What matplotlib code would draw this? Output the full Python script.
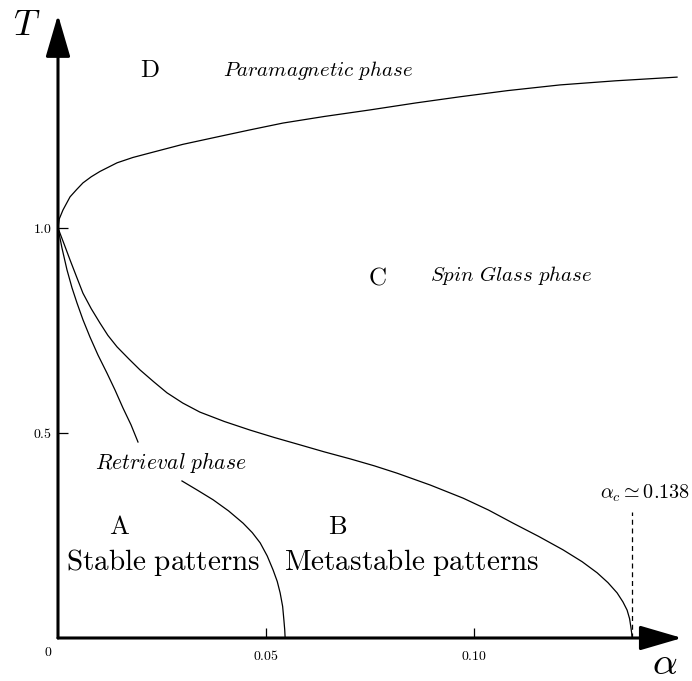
#!/usr/bin/env python3
# -*- coding: utf-8 -*-

from matplotlib import pyplot as plt

plt.rcParams['mathtext.fontset'] = 'cm'
plt.rcParams['font.family'] = 'serif'

# paramagnetic / spin glass boundary T_g(alpha)
alpha_g = [0, 0.0003, 0.0012, 0.0029, 0.0045, 0.0060, 0.0080, 0.0101, 0.0142,
           0.0180, 0.0221, 0.0300, 0.0382, 0.0460, 0.0541, 0.0640, 0.0750,
           0.0860, 0.0966, 0.1080, 0.1207, 0.1340, 0.1488]
t_g = [1.0, 1.022, 1.044, 1.076, 1.094, 1.110, 1.125, 1.138, 1.159,
       1.172, 1.183, 1.204, 1.222, 1.239, 1.256, 1.272, 1.288,
       1.305, 1.320, 1.335, 1.349, 1.359, 1.368]

# retrieval boundary T_M(alpha), ends at alpha_c
alpha_m = [0, 0.0015, 0.0029, 0.0045, 0.0060, 0.0080, 0.0101, 0.0120, 0.0142,
           0.0170, 0.0197, 0.0230, 0.0262, 0.0300, 0.0341, 0.0400, 0.0462,
           0.0520, 0.0582, 0.0640, 0.0702, 0.0760, 0.0815, 0.0895, 0.0974,
           0.1035, 0.1094, 0.1155, 0.1214, 0.1260, 0.1296, 0.1322, 0.1344,
           0.1358, 0.1368, 0.1374, 0.1377, 0.1379, 0.138]
t_m = [1.0, 0.960, 0.922, 0.880, 0.841, 0.803, 0.768, 0.738, 0.710,
       0.681, 0.654, 0.625, 0.598, 0.573, 0.551, 0.528, 0.507,
       0.489, 0.471, 0.454, 0.437, 0.420, 0.402, 0.373, 0.341,
       0.312, 0.280, 0.248, 0.215, 0.186, 0.159, 0.135, 0.110,
       0.088, 0.068, 0.047, 0.027, 0.012, 0.0]

# stable / metastable boundary T_c(alpha), broken by the label
alpha_c_top = [0, 0.00096, 0.00216, 0.00337, 0.00457, 0.00601, 0.00769,
               0.00962, 0.01178, 0.01370, 0.01562, 0.01755, 0.01923]
t_c_top = [1.0, 0.951, 0.898, 0.854, 0.817, 0.776, 0.734,
           0.690, 0.646, 0.605, 0.561, 0.520, 0.478]
alpha_c_bot = [0.0298, 0.0336, 0.0373, 0.0410, 0.0445, 0.0467, 0.0486,
               0.0503, 0.0517, 0.0527, 0.0534, 0.0540, 0.0543, 0.0545, 0.0546]
t_c_bot = [0.383, 0.360, 0.337, 0.310, 0.280, 0.257, 0.232,
           0.200, 0.166, 0.138, 0.110, 0.077, 0.044, 0.020, 0.0]

alpha_c = 0.138
x_ticks = [0.05, 0.10]
x_tick_labels = ['$0.05$', '$0.10$']
y_ticks = [0.5, 1.0]
y_tick_labels = ['$0.5$', '$1.0$']


def phase_diagram():
    fig = plt.figure(figsize=(6.92, 6.81), dpi=100)
    ax = fig.add_axes([0, 0, 1, 1])
    ax.set_xlim(-0.01394, 0.15240)
    ax.set_ylim(-0.1049, 1.5561)

    # curves
    ax.plot(alpha_g, t_g, color='k', lw=0.9)
    ax.plot(alpha_m, t_m, color='k', lw=0.9)
    ax.plot(alpha_c_top, t_c_top, color='k', lw=0.9)
    ax.plot(alpha_c_bot, t_c_bot, color='k', lw=0.9)
    ax.plot([alpha_c, alpha_c], [0, 0.307], color='k', lw=0.9,
            dashes=(4, 3))

    # axes drawn as arrows
    arrow = dict(arrowstyle='-|>,head_length=1.3,head_width=0.38',
                 mutation_scale=20, lw=2.2, color='k', shrinkA=0, shrinkB=0)
    ax.annotate('', xy=(0.15, 0), xytext=(0, 0), arrowprops=arrow)
    ax.annotate('', xy=(0, 1.52), xytext=(0, 0), arrowprops=arrow)

    for s in ax.spines.values():
        s.set_visible(False)
    ax.spines['left'].set_position(('data', 0))
    ax.spines['bottom'].set_position(('data', 0))
    ax.set_xticks(x_ticks, x_tick_labels)
    ax.set_yticks(y_ticks, y_tick_labels)
    ax.tick_params(direction='in', length=7, width=0.9, labelsize=10)
    ax.tick_params(axis='x', pad=8)
    ax.tick_params(axis='y', pad=4)
    ax.text(-0.0024, -0.018, '$0$', fontsize=10, ha='center', va='top')

    ax.text(-0.0075, 1.495, '$T$', fontsize=26, ha='center', va='center')
    ax.text(0.1459, -0.062, r'$\alpha$', fontsize=28, ha='center',
            va='center')

    # phase labels
    ax.text(0.0221, 1.385, r'$\mathrm{D}$', fontsize=18, ha='center',
            va='center')
    ax.text(0.0625, 1.385, r'$\mathit{Paramagnetic\ phase}$', fontsize=15,
            ha='center', va='center')
    ax.text(0.0767, 0.879, r'$\mathrm{C}$', fontsize=18, ha='center',
            va='center')
    ax.text(0.1089, 0.884, r'$\mathit{Spin\ Glass\ phase}$', fontsize=15,
            ha='center', va='center')
    ax.text(0.0272, 0.429, r'$\mathit{Retrieval\ phase}$', fontsize=15.5,
            ha='center', va='center')
    ax.text(0.0147, 0.271, r'$\mathrm{A}$', fontsize=19, ha='center',
            va='center')
    ax.text(0.0252, 0.185, r'$\mathrm{Stable\ patterns}$', fontsize=21,
            ha='center', va='center')
    ax.text(0.0673, 0.271, r'$\mathrm{B}$', fontsize=19, ha='center',
            va='center')
    ax.text(0.0851, 0.185, r'$\mathrm{Metastable\ patterns}$', fontsize=21,
            ha='center', va='center')
    ax.text(0.1410, 0.353, r'$\alpha_c \simeq 0.138$', fontsize=14.5,
            ha='center', va='center')

    plt.savefig('out.png', dpi=100)


if __name__ == "__main__":
    phase_diagram()
